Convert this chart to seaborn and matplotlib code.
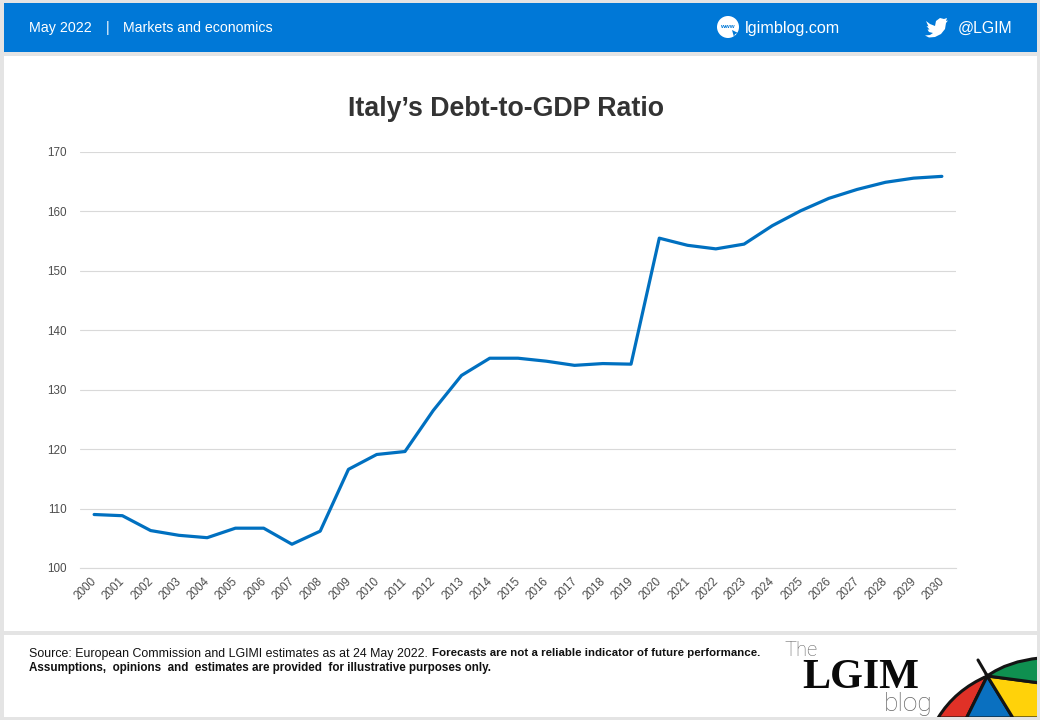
#!python3
import matplotlib
matplotlib.use("Agg")
import matplotlib.pyplot as plt
from matplotlib.patches import Rectangle, Circle, PathPatch, Polygon
from matplotlib.path import Path
from matplotlib.transforms import ScaledTranslation
import pandas as pd
import seaborn as sns

years = [str(y) for y in range(2000, 2031)]
debt_ratio = [109.0, 108.8, 106.3, 105.5, 105.1, 106.7, 106.7, 104.0, 106.2, 116.6,
              119.1, 119.6, 126.5, 132.4, 135.3, 135.3, 134.8, 134.1, 134.4, 134.3,
              155.5, 154.3, 153.7, 154.5, 157.6, 160.1, 162.2, 163.7, 164.9, 165.6, 165.9]
y_ticks = [100, 110, 120, 130, 140, 150, 160, 170]

BLUE = "#0078d7"
LINE_BLUE = "#0070c0"
GREY_BG = "#e4e4e4"
LABEL_GREY = "#4d4d4d"

sns.set_theme(style="white")
plt.rcParams["font.family"] = ["Liberation Sans", "DejaVu Sans"]

fig = plt.figure(figsize=(10.4, 7.2), dpi=100, facecolor=GREY_BG)

# overlay in pixel coordinates for the page furniture
bg = fig.add_axes([0, 0, 1, 1], zorder=0)
bg.set_xlim(0, 1040)
bg.set_ylim(720, 0)
bg.axis("off")
bg.add_patch(Rectangle((4, 3), 1033, 49, fc=BLUE, ec="none"))
bg.add_patch(Rectangle((4, 56), 1033, 575, fc="white", ec="none"))
bg.add_patch(Rectangle((4, 635), 1033, 81.5, fc="white", ec="none"))

bg.text(29, 28, "May 2022", color="white", fontsize=10.3, va="center")
bg.text(108, 28, "|", color="white", fontsize=10, va="center", ha="center")
bg.text(123, 28, "Markets and economics", color="white", fontsize=10.2, va="center")
bg.text(745, 28.5, "lgimblog.com", color="white", fontsize=11.6, va="center")
bg.text(958, 28.5, "@LGIM", color="white", fontsize=11.4, va="center")

# www icon
bg.add_patch(Circle((728, 27), 11, fc="white", ec="none"))
bg.text(727, 27, "www", color=BLUE, fontsize=4.5, ha="center", va="center", fontweight="bold")
bg.add_patch(Polygon([(732, 30), (738, 33), (735, 34), (734, 37)], fc=BLUE, ec="none"))

# twitter bird
bird = [(926, 21), (930, 24), (935, 26), (936, 21), (940, 18), (944, 19), (947, 18),
        (946, 21), (948, 20.5), (946, 23), (945, 29), (941, 34), (935, 37), (929, 37.5),
        (925, 35.5), (930, 35), (933, 33), (929, 32), (927.5, 29.5), (929.5, 29.5),
        (926.5, 26), (928.5, 26.5)]
bg.add_patch(Polygon(bird, fc="white", ec="none"))

# title
bg.text(505.5, 109.5, "Italy\u2019s Debt-to-GDP Ratio", color="#333333", fontsize=19.3,
        fontweight="bold", ha="center", va="center")

# footer
bg.text(29, 653.5, "Source: European Commission and LGIMI estimates as at 24 May 2022.",
        color="#111111", fontsize=8.95, va="center")
bg.text(432, 653.5, "Forecasts are not a reliable indicator of future performance.",
        color="#111111", fontsize=8.27, va="center", fontweight="bold")
bg.text(29, 668.5, "Assumptions,  opinions  and  estimates are provided  for illustrative purposes only.",
        color="#111111", fontsize=8.4, va="center", fontweight="bold")

# logo
bg.text(784, 651, "The", color="#666666", fontsize=14.5, va="center", fontweight="light",
        family=["Roboto", "Liberation Sans"])
bg.text(802, 677.5, "LGIM", color="#0a0a0a", fontsize=30.3, va="center", fontweight="bold",
        family=["Liberation Serif"])
bg.text(884, 704, "blog", color="#666666", fontsize=19, va="center", fontweight="light",
        family=["Roboto", "Liberation Sans"])

# umbrella
apex = (987.3, 676)
panel = Rectangle((4, 635), 1033, 81.5, transform=bg.transData)
segments = [
    ("#e03127", [apex, (955, 690), (938, 718), (966.5, 718)],
     [Path.MOVETO, Path.CURVE3, Path.CURVE3, Path.LINETO]),
    ("#0a70c0", [apex, (966.5, 718), (1013, 718)],
     [Path.MOVETO, Path.LINETO, Path.LINETO]),
    ("#ffd20a", [apex, (1013, 718), (1040, 718), (1040, 683)],
     [Path.MOVETO, Path.LINETO, Path.LINETO, Path.LINETO]),
    ("#0f9050", [apex, (1040, 683), (1040, 658), (1008, 661), apex],
     [Path.MOVETO, Path.LINETO, Path.LINETO, Path.CURVE3, Path.CURVE3]),
]
for colour, verts, codes in segments:
    patch = PathPatch(Path(verts + [apex], codes + [Path.CLOSEPOLY]), fc=colour, ec="#141414", lw=2.2)
    bg.add_patch(patch)
    patch.set_clip_path(panel)
bg.plot([978, apex[0]], [660, apex[1]], color="#141414", lw=2.2, solid_capstyle="round")

# chart
ax = fig.add_axes([80 / 1040, 1 - 568 / 720, 876 / 1040, 416 / 720], zorder=1)
ax.patch.set_alpha(0)
df = pd.DataFrame({"year": years, "ratio": debt_ratio})
sns.lineplot(data=df, x="year", y="ratio", color=LINE_BLUE, linewidth=2.3, ax=ax)

ax.set_xlim(-0.5, len(years) - 0.5)
ax.set_ylim(100, 170)
ax.set_yticks(y_ticks)
ax.set_xlabel("")
ax.set_ylabel("")
ax.grid(axis="y", color="#d9d9d9", linewidth=0.8)
ax.grid(axis="x", visible=False)
ax.set_axisbelow(True)
sns.despine(ax=ax, left=True, top=True, right=True, bottom=False)
ax.spines["bottom"].set_color("#d9d9d9")
ax.spines["bottom"].set_linewidth(0.8)
ax.tick_params(axis="y", length=0, pad=9.5, labelsize=8.4, labelcolor=LABEL_GREY)
ax.tick_params(axis="x", length=0, pad=4, labelsize=8.4, labelcolor=LABEL_GREY, rotation=45)

# year labels sit a little left of their ticks
shift = ScaledTranslation(-8.5 / 100, -2 / 100, fig.dpi_scale_trans)
for label in ax.get_xticklabels():
    label.set_transform(label.get_transform() + shift)

fig.savefig("out.png", dpi=100, facecolor=fig.get_facecolor())
